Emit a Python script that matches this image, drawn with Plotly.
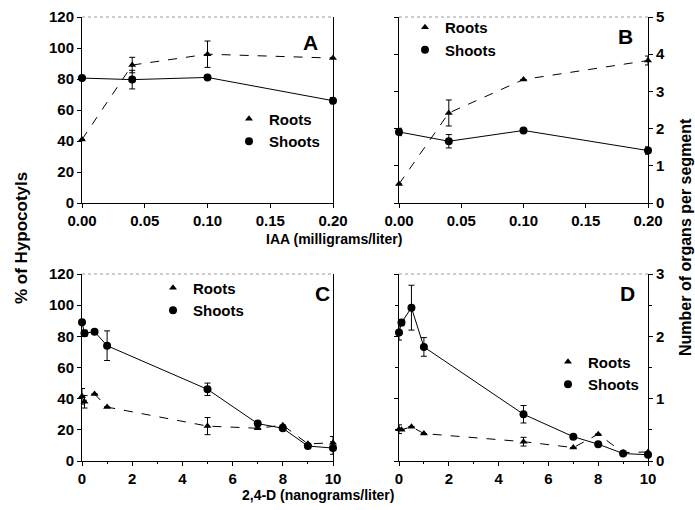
import plotly.graph_objects as go

# ---------------- data ----------------
iaa_x = [0.0, 0.04, 0.10, 0.20]
a_roots = [41, 89, 96, 93.5]
a_roots_err = [0, 5, 8.5, 0]
a_shoots = [80.6, 79.6, 81, 66]
a_shoots_err = [0, 6, 0, 2]

b_roots = [0.51, 2.42, 3.32, 3.83]
b_roots_err = [0, 0.35, 0, 0.12]
b_shoots = [1.91, 1.66, 1.95, 1.41]
b_shoots_err = [0.1, 0.18, 0, 0.1]

d24_x = [0, 0.1, 0.5, 1, 5, 7, 8, 9, 10]
c_roots = [41.5, 38, 43, 34.6, 22.4, 21, 23, 11, 11.7]
c_roots_err = [5, 4, 0, 0, 5.5, 0, 0, 0, 4]
c_shoots = [89, 82, 83, 74, 46, 24, 21, 9.6, 8.3]
c_shoots_err = [0, 2, 0, 9.5, 4, 0, 0, 0, 4]

d_roots = [0.51, 0.50, 0.55, 0.44, 0.31, 0.215, 0.43, 0.135, 0.145]
d_roots_err = [0.07, 0, 0, 0, 0.07, 0, 0, 0, 0]
d_shoots = [2.06, 2.22, 2.46, 1.83, 0.75, 0.39, 0.27, 0.12, 0.10]
d_shoots_err = [0.12, 0.05, 0.36, 0.15, 0.14, 0, 0, 0, 0]

iaa_ticks = [0.0, 0.05, 0.10, 0.15, 0.20]
iaa_ticklabels = ["0.00", "0.05", "0.10", "0.15", "0.20"]
d24_ticks = [0, 2, 4, 6, 8, 10]
pct_ticks = [0, 20, 40, 60, 80, 100, 120]
b_ticks = [0, 1, 2, 3, 4, 5]
d_ticks = [0, 1, 2, 3]

W, H = 695, 510
FONT = "Liberation Sans, Arial, Helvetica, sans-serif"


def px_x(p):
    return p / W


def px_y(p):
    return 1 - p / H


fig = go.Figure()

panels = [
    ("x", "y", iaa_x, a_roots, a_roots_err, a_shoots, a_shoots_err, "legend"),
    ("x2", "y2", iaa_x, b_roots, b_roots_err, b_shoots, b_shoots_err, "legend2"),
    ("x3", "y3", d24_x, c_roots, c_roots_err, c_shoots, c_shoots_err, "legend3"),
    ("x4", "y4", d24_x, d_roots, d_roots_err, d_shoots, d_shoots_err, "legend4"),
]

for xa, ya, xs, r, re, s, se, lg in panels:
    fig.add_trace(go.Scatter(
        x=xs, y=r, xaxis=xa, yaxis=ya, mode="lines+markers",
        line=dict(color="black", width=1, dash="dash"),
        marker=dict(symbol="triangle-up", size=7, color="black"),
        error_y=dict(type="data", array=re, visible=True, color="black",
                     thickness=1, width=3),
        cliponaxis=False, showlegend=False, name="Roots"))
    fig.add_trace(go.Scatter(
        x=xs, y=s, xaxis=xa, yaxis=ya, mode="lines+markers",
        line=dict(color="black", width=1),
        marker=dict(symbol="circle", size=8, color="black"),
        error_y=dict(type="data", array=se, visible=True, color="black",
                     thickness=1, width=3),
        cliponaxis=False, showlegend=False, name="Shoots"))
    fig.add_trace(go.Scatter(
        x=[None], y=[None], xaxis=xa, yaxis=ya, mode="markers",
        marker=dict(symbol="triangle-up", size=7, color="black"),
        name="Roots", legend=lg, showlegend=True))
    fig.add_trace(go.Scatter(
        x=[None], y=[None], xaxis=xa, yaxis=ya, mode="markers",
        marker=dict(symbol="circle", size=8, color="black"),
        name="Shoots", legend=lg, showlegend=True))

tickfont = dict(family=FONT, size=15, color="black", weight="bold")
common_axis = dict(showline=True, linecolor="black", linewidth=1,
                   ticks="outside", ticklen=4, tickcolor="black", automargin=False,
                   showgrid=False, zeroline=False, tickfont=tickfont)

dom_x_left = [px_x(82), px_x(333)]
dom_x_right = [px_x(399), px_x(648)]
dom_y_top = [px_y(203), px_y(17)]
dom_y_bot = [px_y(461), px_y(274)]

layout = dict(
    width=W, height=H, margin=dict(l=0, r=0, t=0, b=0, autoexpand=False),
    template="none",
    plot_bgcolor="white", paper_bgcolor="white",
    font=dict(family=FONT, color="black"),
    xaxis=dict(domain=dom_x_left, range=[0, 0.2], anchor="y",
               tickvals=iaa_ticks, ticktext=iaa_ticklabels, **common_axis),
    yaxis=dict(domain=dom_y_top, range=[0, 120], anchor="x",
               tickvals=pct_ticks, mirror=True, **common_axis),
    xaxis2=dict(domain=dom_x_right, range=[0, 0.2], anchor="y2",
                tickvals=iaa_ticks, ticktext=iaa_ticklabels, **common_axis),
    yaxis2=dict(domain=dom_y_top, range=[0, 5], anchor="x2", side="right",
                tickvals=b_ticks, mirror="ticks", **common_axis),
    xaxis3=dict(domain=dom_x_left, range=[0, 10], anchor="y3",
                tickvals=d24_ticks,
                minor=dict(ticks="outside", ticklen=2, dtick=1, tickcolor="black"),
                **common_axis),
    yaxis3=dict(domain=dom_y_bot, range=[0, 120], anchor="x3",
                tickvals=pct_ticks, mirror=True, **common_axis),
    xaxis4=dict(domain=dom_x_right, range=[0, 10], anchor="y4",
                tickvals=d24_ticks,
                minor=dict(ticks="outside", ticklen=2, dtick=1, tickcolor="black"),
                **common_axis),
    yaxis4=dict(domain=dom_y_bot, range=[0, 3], anchor="x4", side="right",
                tickvals=d_ticks, mirror="ticks",
                minor=dict(ticks="outside", ticklen=3, dtick=0.5, tickcolor="black"),
                **common_axis),
)

legfont = dict(family=FONT, size=15, color="black", weight="bold")


def leg(xc, yc):
    return dict(x=px_x(xc - 20), y=px_y(yc), xanchor="left", yanchor="middle",
                xref="paper", yref="paper", bgcolor="rgba(0,0,0,0)", borderwidth=0,
                font=legfont, tracegroupgap=0, itemwidth=30)


layout["legend"] = leg(249, 130)
layout["legend2"] = leg(425, 38.5)
layout["legend3"] = leg(173, 299)
layout["legend4"] = leg(568, 373)

fig.update_layout(**layout)

# faint top frame of each panel (the reference shows a light, broken top edge)
for dx, dy in [(dom_x_left, dom_y_top), (dom_x_right, dom_y_top),
               (dom_x_left, dom_y_bot), (dom_x_right, dom_y_bot)]:
    fig.add_shape(type="line", xref="paper", yref="paper",
                  x0=dx[0], x1=dx[1], y0=dy[1], y1=dy[1],
                  line=dict(color="#9a9a9a", width=1, dash="dot"))

annots = [
    dict(text="<b>A</b>", x=px_x(310), y=px_y(42), size=21),
    dict(text="<b>B</b>", x=px_x(625), y=px_y(37), size=21),
    dict(text="<b>C</b>", x=px_x(322), y=px_y(293), size=21),
    dict(text="<b>D</b>", x=px_x(627), y=px_y(293), size=21),
    dict(text="<b>IAA (milligrams/liter)</b>", x=px_x(334), y=px_y(239), size=14),
    dict(text="<b>2,4-D (nanograms/liter)</b>", x=px_x(318), y=px_y(495), size=14),
]
for a in annots:
    fig.add_annotation(text=a["text"], x=a["x"], y=a["y"], xref="paper", yref="paper",
                       showarrow=False, xanchor="center", yanchor="middle",
                       font=dict(family=FONT, size=a["size"], color="black"))

fig.add_annotation(text="<b>% of Hypocotyls</b>", x=px_x(21), y=px_y(238),
                   xref="paper", yref="paper", showarrow=False, textangle=-90,
                   xanchor="center", yanchor="middle",
                   font=dict(family=FONT, size=17, color="black"))
fig.add_annotation(text="<b>Number of organs per segment</b>", x=px_x(685), y=px_y(237),
                   xref="paper", yref="paper", showarrow=False, textangle=-90,
                   xanchor="center", yanchor="middle",
                   font=dict(family=FONT, size=16, color="black"))

fig.write_html("out.html", config={"displayModeBar": False},
               post_script="document.body.style.margin='0';")
